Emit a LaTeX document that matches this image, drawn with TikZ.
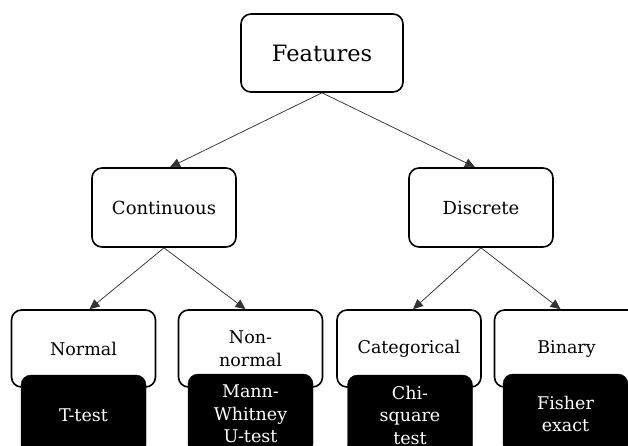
\documentclass[tikz,border=0pt]{standalone}
\usepackage{fontspec}
\setmainfont{DejaVu Serif}
\usetikzlibrary{arrows.meta}
\begin{document}
\begin{tikzpicture}[x=1pt,y=-1pt,
  wbox/.style={draw=black, line width=1.6pt, rounded corners=10pt, fill=white, align=center, inner sep=0pt},
  bbox/.style={draw=black, fill=black, rounded corners=10pt, text=white, align=center, inner sep=0pt, minimum width=125pt, minimum height=80pt, font=\fontsize{17.5}{22.5}\selectfont},
  conn/.style={draw=black!80, line width=0.75pt, -{Triangle[length=10pt,width=9pt]}}]
\useasboundingbox (0,0) rectangle (628,445);
\clip (0,0) rectangle (628,445);
\fill[white] (0,0) rectangle (628,445);
\node[wbox, minimum width=162pt, minimum height=78pt, font=\fontsize{22.5}{26}\selectfont] (feat) at (322,53) {Features};
\node[wbox, minimum width=144pt, minimum height=79pt, font=\fontsize{18}{22}\selectfont] (cont) at (164,207.5) {Continuous};
\node[wbox, minimum width=144pt, minimum height=79pt, font=\fontsize{18}{22}\selectfont] (disc) at (481,207.5) {Discrete};
\tikzset{lvl/.style={wbox, minimum width=144pt, minimum height=77pt, font=\fontsize{17.5}{23.5}\selectfont}}
\node[lvl] (norm) at (83.5,348.5) {Normal};
\node[lvl] (nonn) at (250.5,348.5) {Non-\\normal};
\node[lvl] (cat) at (409,348.5) {Categorical};
\node[lvl] (bin) at (566.5,348.5) {Binary};
\node[bbox] (tt) at (83.5,415) {T-test};
\node[bbox] (mw) at (250.5,414) {Mann-\\Whitney\\U-test};
\node[bbox] (chi) at (410,415) {Chi-\\square\\test};
\node[bbox] (fish) at (565.5,414) {Fisher\\exact};
\draw[conn] (feat.south) -- ([xshift=6pt]cont.north);
\draw[conn] (feat.south) -- ([xshift=-6pt]disc.north);
\draw[conn] (cont.south) -- ([xshift=6pt]norm.north);
\draw[conn] (cont.south) -- ([xshift=-5pt]nonn.north);
\draw[conn] (disc.south) -- ([xshift=4pt]cat.north);
\draw[conn] (disc.south) -- ([xshift=-6pt]bin.north);
\end{tikzpicture}
\end{document}
